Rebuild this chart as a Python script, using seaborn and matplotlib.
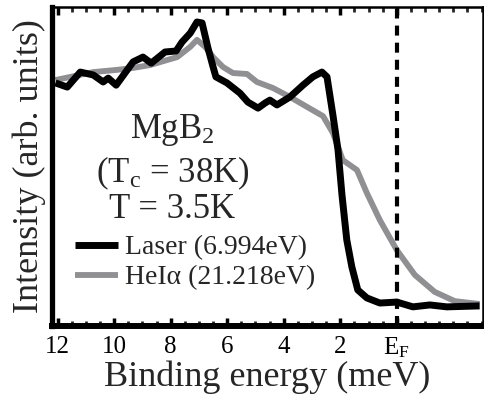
import numpy as np
import pandas as pd
import matplotlib
matplotlib.use("Agg")
import matplotlib.pyplot as plt
import seaborn as sns

# Laser ARPES spectrum (hv = 6.994 eV)
laser_energy = [12.08, 11.66, 11.20, 10.74, 10.39, 10.21, 9.93, 9.33, 8.98, 8.69,
                8.20, 7.81, 7.60, 7.31, 7.07, 6.89, 6.68, 6.50, 6.40, 6.01,
                5.55, 5.27, 4.91, 4.66, 4.49, 4.24, 3.78, 3.32, 2.97, 2.65,
                2.47, 2.26, 2.08, 1.94, 1.77, 1.59, 1.38, 1.06, 0.60, 0.00,
                -0.57, -1.17, -1.77, -2.93]
laser_intensity = [76.2, 74.9, 79.6, 78.7, 76.5, 77.7, 75.5, 82.8, 84.3, 82.4,
                   85.9, 86.2, 89.0, 91.8, 95.3, 95.0, 87.1, 81.2, 78.1, 76.2,
                   73.0, 70.2, 68.3, 69.9, 70.8, 69.3, 71.8, 75.5, 78.1, 79.6,
                   78.1, 66.1, 55.2, 41.1, 27.0, 18.5, 11.3, 8.8, 7.2, 7.5,
                   6.0, 6.6, 6.0, 6.3]

# He I alpha spectrum (hv = 21.218 eV)
hei_energy = [12.08, 11.38, 10.74, 9.89, 9.33, 8.73, 7.77, 7.31, 7.07, 6.78,
              6.50, 6.15, 5.80, 5.30, 4.95, 4.38, 3.78, 3.18, 2.61, 2.26,
              1.91, 1.41, 1.06, 0.60, 0.00, -0.64, -1.34, -2.05, -2.93]
hei_intensity = [77.1, 78.4, 79.6, 80.3, 80.9, 81.8, 84.3, 87.5, 89.7, 87.5,
                 84.3, 81.2, 79.3, 79.0, 76.5, 74.6, 71.8, 68.7, 65.8, 60.5,
                 52.0, 48.9, 41.7, 33.2, 23.8, 16.0, 10.7, 7.8, 6.9]

series_labels = ["Laser (6.994eV)", "HeI\u03b1 (21.218eV)"]
tick_values = [12, 10, 8, 6, 4, 2, 0]
tick_labels = ["12", "10", "8", "6", "4", "2", r"E$_\mathrm{F}$"]

sns.set_theme(style="white")
plt.rcParams["font.family"] = ["Liberation Serif", "DejaVu Serif"]
plt.rcParams["mathtext.fontset"] = "custom"
plt.rcParams["mathtext.rm"] = "Liberation Serif"
plt.rcParams["mathtext.it"] = "Liberation Serif:italic"
plt.rcParams["mathtext.bf"] = "Liberation Serif:bold"

laser_df = pd.DataFrame({"energy": laser_energy, "intensity": laser_intensity})
hei_df = pd.DataFrame({"energy": hei_energy, "intensity": hei_intensity})

fig = plt.figure(figsize=(4.85, 4.01), dpi=100)
ax = fig.add_axes([52 / 485, 1 - 326 / 401, 431 / 485, 319 / 401])

sns.lineplot(data=hei_df, x="energy", y="intensity", ax=ax, color="#8f8f94",
             lw=4.2, estimator=None, sort=False, label=series_labels[1])
sns.lineplot(data=laser_df, x="energy", y="intensity", ax=ax, color="black",
             lw=5, estimator=None, sort=False, label=series_labels[0])
for ln in ax.get_lines():
    ln.set_solid_joinstyle("round")
    ln.set_solid_capstyle("butt")

# Fermi level
ax.axvline(0, color="black", lw=3, linestyle=(0, (2.4, 1.7)))

ax.set_xlim(12.2, -3.05)
ax.set_ylim(0, 100)
ax.set_xticks(tick_values)
ax.set_xticklabels(tick_labels)
ax.set_xticks(np.arange(-3.0, 12.01, 0.5), minor=True)
ax.set_yticks([])
ax.tick_params(axis="x", which="major", direction="in", length=6, width=2.5,
               top=True, bottom=True, labelsize=18, pad=7, colors="black")
ax.tick_params(axis="x", which="minor", direction="in", length=3.5, width=2,
               top=True, bottom=True)

for side, lw in (("left", 3.8), ("bottom", 4.3), ("top", 1.8), ("right", 1.8)):
    ax.spines[side].set_visible(True)
    ax.spines[side].set_linewidth(lw)
    ax.spines[side].set_color("black")

ax.set_xlabel("Binding energy (meV)", fontsize=26, labelpad=0)
ax.set_ylabel("Intensity (arb. units)", fontsize=26, labelpad=4)

# Sample annotation
ax.text(0.278, 0.589, r"MgB$_2$", transform=ax.transAxes, ha="center",
        va="baseline", fontsize=25)
ax.text(0.280, 0.451, r"(T$_\mathrm{c}$ = 38K)", transform=ax.transAxes,
        ha="center", va="baseline", fontsize=25)
ax.text(0.278, 0.339, "T = 3.5K", transform=ax.transAxes, ha="center",
        va="baseline", fontsize=25)

handles, labels = ax.get_legend_handles_labels()
order = [labels.index(s) for s in series_labels]
ax.legend([handles[i] for i in order], [labels[i] for i in order],
          loc="upper left", bbox_to_anchor=(0.053, 0.285), frameon=False,
          fontsize=20, handlelength=1.55, handletextpad=0.25,
          labelspacing=0.16, borderpad=0, borderaxespad=0)

fig.savefig("out.png", dpi=100)
